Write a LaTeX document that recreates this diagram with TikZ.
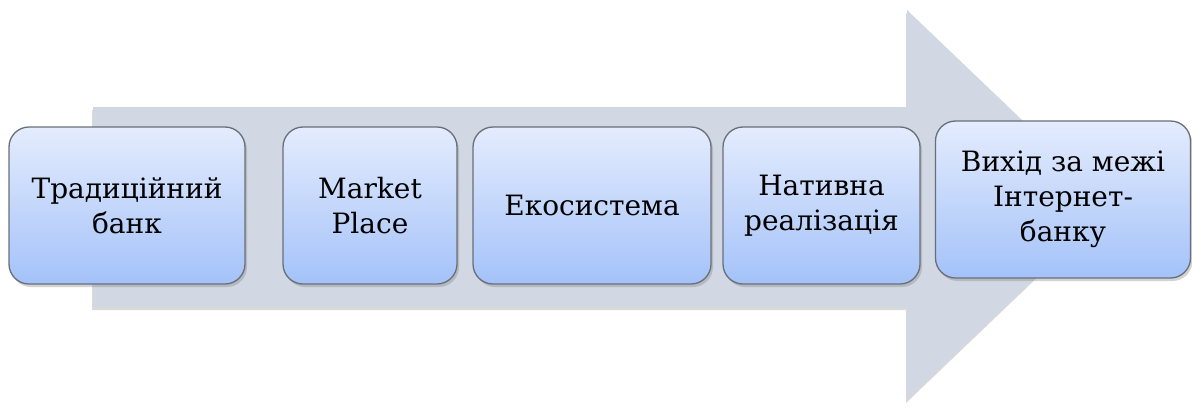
\documentclass[tikz,border=0pt]{standalone}
\usepackage{fontspec}
\setmainfont{DejaVu Serif}
\usetikzlibrary{shadows}

\definecolor{arrowgray}{RGB}{210,216,227}
\definecolor{boxtop}{RGB}{228,236,253}
\definecolor{boxbottom}{RGB}{164,194,249}
\definecolor{boxline}{RGB}{105,111,121}

\tikzset{
  stage/.style={rectangle, rounded corners=20pt, draw=boxline, line width=1.3pt,
    top color=boxtop, bottom color=boxbottom, minimum height=157pt,
    align=center, font=\fontsize{28}{35}\selectfont,
    drop shadow={shadow xshift=2pt, shadow yshift=-3pt, opacity=0.35}},
  bigarrow/.style={fill=arrowgray,
    drop shadow={shadow xshift=-1pt, shadow yshift=-3pt, opacity=0.3}}
}

\begin{document}
\begin{tikzpicture}[x=1pt, y=-1pt]
    \useasboundingbox (0,0) rectangle (1192,408);

    \coordinate (tail top) at (93,107);
    \coordinate (tail bottom) at (93,307);
    \coordinate (tip) at (1111,205);

    \fill[bigarrow] (tail top) -- (907,107) -- (907,10) -- (tip)
        -- (907,400) -- (907,307) -- (tail bottom) -- cycle;

    \node[stage, minimum width=236pt] (trad) at (127,205.5) {Традиційний\\банк};
    \node[stage, minimum width=174pt] (market) at (370,205.5) {Market\\Place};
    \node[stage, minimum width=238pt] (eco) at (592,205.5) {Екосистема};
    \node[stage, minimum width=197pt] (native) at (821.5,205.5) {Нативна\\реалізація};
    \node[stage, minimum width=255pt] (beyond) at (1063,199.5) {Вихід за межі\\Інтернет-\\банку};
\end{tikzpicture}
\end{document}
